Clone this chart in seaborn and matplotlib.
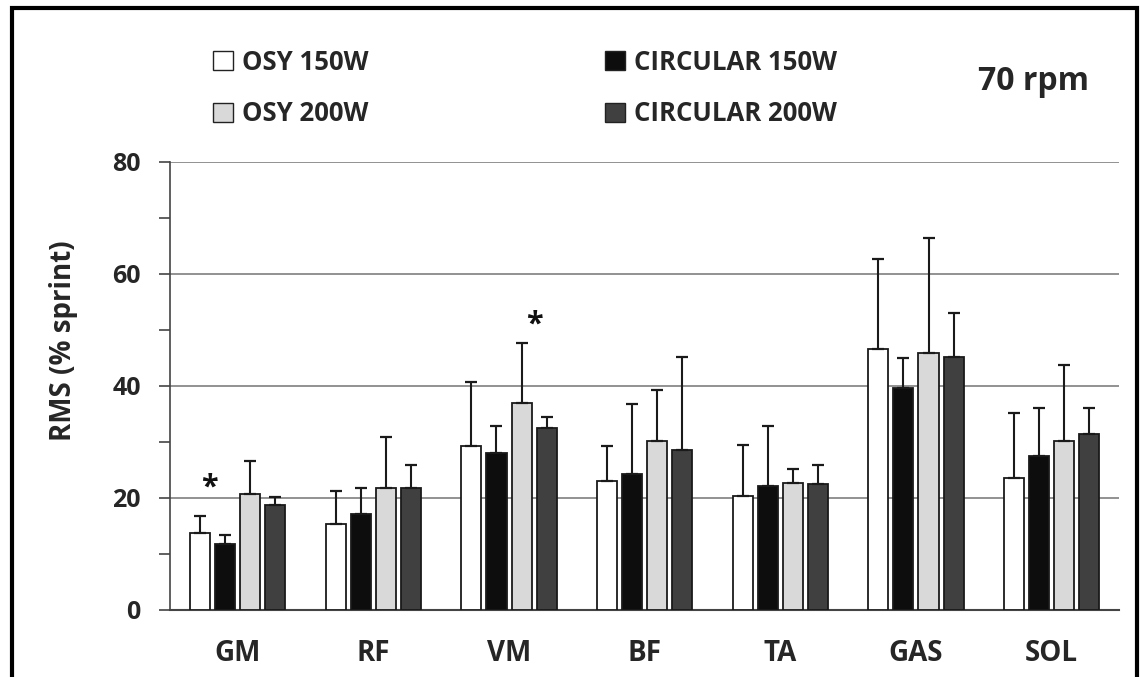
import matplotlib
matplotlib.use("Agg")
import matplotlib.pyplot as plt
from matplotlib.patches import Rectangle, Patch
from matplotlib.ticker import MultipleLocator
import seaborn as sns
import pandas as pd
import numpy as np

muscles = ["GM", "RF", "VM", "BF", "TA", "GAS", "SOL"]
conditions = ["OSY 150W", "CIRCULAR 150W", "OSY 200W", "CIRCULAR 200W"]

osy_150 = [13.8, 15.4, 29.2, 23.0, 20.4, 46.5, 23.5]
osy_150_sd = [3.0, 5.9, 11.5, 6.2, 9.0, 16.2, 11.6]
circ_150 = [11.8, 17.1, 28.0, 24.3, 22.1, 39.6, 27.5]
circ_150_sd = [1.6, 4.7, 4.8, 12.4, 10.7, 5.3, 8.6]
osy_200 = [20.7, 21.8, 37.0, 30.2, 22.7, 45.9, 30.1]
osy_200_sd = [5.9, 9.1, 10.6, 9.1, 2.4, 20.5, 13.6]
circ_200 = [18.8, 21.8, 32.5, 28.6, 22.4, 45.2, 31.4]
circ_200_sd = [1.3, 4.0, 2.0, 16.5, 3.4, 7.8, 4.7]

colors = ["#ffffff", "#0d0d0d", "#d9d9d9", "#404040"]

# significance markers: (muscle index, x offset, y value)
stars = [(0, -0.21, 21.8), (2, 0.19, 51.0)]

means = [osy_150, circ_150, osy_200, circ_200]
sds = [osy_150_sd, circ_150_sd, osy_200_sd, circ_200_sd]

rows = []
for cond, vals, errs in zip(conditions, means, sds):
    for m, v, e in zip(muscles, vals, errs):
        rows.append({"muscle": m, "condition": cond, "rms": v, "sd": e})
df = pd.DataFrame(rows)

sns.set_style("white")
plt.rcParams["font.family"] = ["Open Sans", "DejaVu Sans"]
plt.rcParams["font.weight"] = "bold"

fig = plt.figure(figsize=(11.4, 6.77), dpi=100)
ax = fig.add_axes([0.149, 0.099, 0.833, 0.662])

sns.barplot(data=df, x="muscle", y="rms", hue="condition", order=muscles,
            hue_order=conditions, palette=colors, errorbar=None,
            width=0.74, gap=0.2, edgecolor="#1a1a1a", linewidth=1.3,
            legend=False, ax=ax, zorder=3)

# upper-only error bars at the bar centres drawn by seaborn
for i, cond in enumerate(conditions):
    bars = ax.containers[i]
    xs = [b.get_x() + b.get_width() / 2 for b in bars]
    sub = df[df["condition"] == cond].set_index("muscle").loc[muscles]
    ax.errorbar(xs, sub["rms"], yerr=[np.zeros(len(xs)), sub["sd"]],
                fmt="none", ecolor="#1a1a1a", elinewidth=1.5, capsize=4.5,
                capthick=1.6, zorder=4)

for idx, dx, yv in stars:
    ax.text(idx + dx, yv, "*", ha="center", va="center", fontsize=22,
            fontweight="bold", color="#111111")

ax.set_ylim(0, 80)
ax.set_xlim(-0.5, len(muscles) - 0.5)
ax.yaxis.set_major_locator(MultipleLocator(20))
ax.yaxis.set_minor_locator(MultipleLocator(10))
ax.grid(axis="y", which="major", color="#7f7f7f", linewidth=1.2, zorder=0)
ax.set_axisbelow(True)
ax.tick_params(axis="y", which="both", direction="out", length=8, width=1.2,
               color="#444444", labelsize=18, pad=13, left=True)
ax.tick_params(axis="x", length=0, labelsize=20, pad=21)
for lab in ax.get_xticklabels() + ax.get_yticklabels():
    lab.set_fontweight("bold")

sns.despine(ax=ax)
ax.spines["left"].set_color("#444444")
ax.spines["left"].set_linewidth(1.2)
ax.spines["bottom"].set_color("#444444")
ax.spines["bottom"].set_linewidth(1.5)

ax.set_xlabel("")
ax.set_ylabel("RMS (% sprint)", fontsize=20, fontweight="bold")
ax.yaxis.set_label_coords(-0.097, 0.60)

handles = [Patch(facecolor=c, edgecolor="#222222", linewidth=1.0) for c in colors]
leg_order = [0, 2, 1, 3]
fig.legend([handles[k] for k in leg_order], [conditions[k] for k in leg_order],
           ncol=2, loc="upper left", bbox_to_anchor=(0.187, 0.928),
           frameon=False, prop={"weight": "bold", "size": 18.5},
           borderpad=0, borderaxespad=0, handlelength=0.78, handleheight=0.75,
           handletextpad=0.35, columnspacing=9.2, labelspacing=0.95)

fig.text(0.955, 0.879, "70 rpm", ha="right", va="center", fontsize=23,
         fontweight="bold")

# outer frame of the original figure (bottom edge falls outside)
fig.patches.append(Rectangle((0.0105, -0.1), 0.987, 1.088,
                             transform=fig.transFigure, fill=False,
                             edgecolor="black", linewidth=3))

fig.savefig("out.png", dpi=100)
